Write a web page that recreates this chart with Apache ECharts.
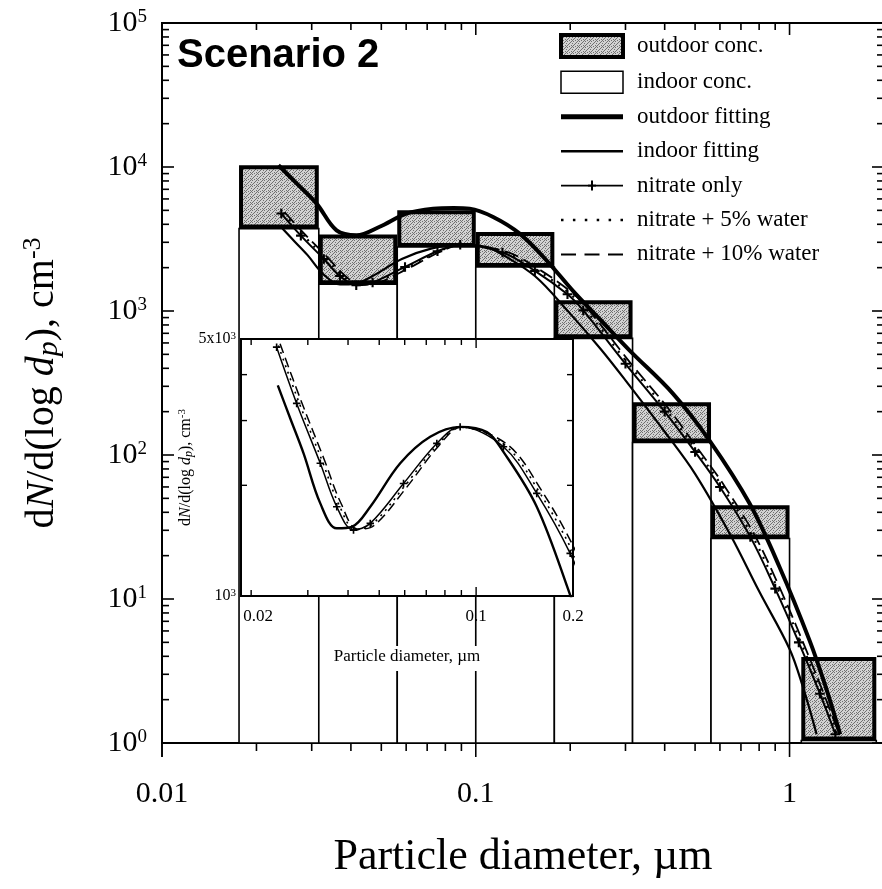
<!DOCTYPE html>
<html><head><meta charset="utf-8">
<script src="https://cdn.jsdelivr.net/npm/echarts@6/dist/echarts.min.js"></script>
<style>html,body{margin:0;padding:0;background:#fff;}#chart{width:882px;height:889px;}</style>
</head><body><div id="chart"></div>
<script>
// ---------------- data ----------------
const binLow  = [0.0176, 0.0316, 0.0562, 0.1, 0.178, 0.316, 0.562, 1.09];
const binHigh = [0.0316, 0.0562, 0.1, 0.178, 0.316, 0.562, 1.0, 1.89];
const indoorConc  = [3735, 1532, 2782, 2022, 646, 122, 26.3, 1.04];
const outdoorConc = [10280, 3394, 5000, 3540, 1187, 232, 44.8, 3.95];

const outdoorFitX = [0.0235, 0.027, 0.0311, 0.036, 0.0417, 0.0494, 0.0601, 0.0731, 0.085, 0.0956, 0.1136, 0.138, 0.168, 0.204, 0.25, 0.309, 0.425, 0.556, 0.746, 0.929, 1.158, 1.30, 1.45];
const outdoorFitY = [10280, 7600, 5570, 3630, 3356, 3846, 4746, 5140, 5200, 5140, 4497, 3446, 2250, 1380, 866, 533, 267, 126, 46, 16.7, 5.16, 2.5, 1.15];

const indoorFitX = [0.0242, 0.0265, 0.0291, 0.0328, 0.0369, 0.0411, 0.0469, 0.0581, 0.072, 0.0892, 0.108, 0.1216, 0.1543, 0.196, 0.25, 0.30, 0.40, 0.50, 0.65, 0.80, 1.0, 1.1, 1.22];
const indoorFitY = [3740, 3030, 2443, 1786, 1528, 1542, 1749, 2296, 2711, 2884, 2790, 2466, 1749, 1006, 545, 330, 145, 74, 27.5, 11.3, 4.5, 2.5, 1.15];

const nitrateX = [0.024, 0.0277, 0.0328, 0.0369, 0.0416, 0.0469, 0.0595, 0.0755, 0.0892, 0.1216, 0.1543, 0.196, 0.22, 0.30, 0.40, 0.50, 0.60, 0.75, 0.90, 1.07, 1.25, 1.40];
const nitrateY = [4750, 3340, 2296, 1749, 1511, 1576, 2023, 2600, 2884, 2546, 1901, 1306, 1010, 430, 200, 105, 60, 27, 11.8, 5.0, 2.2, 1.15];

const water5X = [0.0243, 0.0281, 0.0333, 0.0375, 0.0422, 0.0475, 0.0601, 0.076, 0.0895, 0.1235, 0.157, 0.1995, 0.224, 0.305, 0.407, 0.508, 0.61, 0.762, 0.915, 1.085, 1.265, 1.42];
const water5Y = [4800, 3380, 2320, 1770, 1515, 1565, 1995, 2580, 2880, 2560, 1920, 1320, 1020, 435, 203, 106, 60.5, 27.3, 11.9, 5.05, 2.22, 1.15];

const water10X = [0.0246, 0.0285, 0.0338, 0.038, 0.0428, 0.0482, 0.0607, 0.0765, 0.0898, 0.1255, 0.1595, 0.203, 0.228, 0.31, 0.414, 0.516, 0.62, 0.775, 0.93, 1.10, 1.28, 1.44];
const water10Y = [4850, 3420, 2340, 1790, 1520, 1555, 1970, 2560, 2875, 2575, 1940, 1335, 1030, 440, 206, 107, 61, 27.6, 12.0, 5.1, 2.25, 1.15];

const mainXLabelValues = [0.01, 0.1, 1];
const mainXLabelText = ['0.01', '0.1', '1'];
const insetXLabelValues = [0.02, 0.1, 0.2];
const insetXLabelText = ['0.02', '0.1', '0.2'];

const legendNames = ['outdoor conc.', 'indoor conc.', 'outdoor fitting', 'indoor fitting', 'nitrate only', 'nitrate + 5% water', 'nitrate + 10% water'];

// ---------------- helpers ----------------
const SERIF = 'Liberation Serif';
const zip = (xs, ys) => xs.map((x, i) => [x, ys[i]]);

function minorTicks(decades, maxV) {
  const out = [];
  decades.forEach(d => { for (let k = 2; k <= 9; k++) { const v = +(k * d).toPrecision(4); if (v < maxV) out.push(v); } });
  return out;
}
const mainXTicks = [0.01, 0.1, 1].map(v => [v, 1]).concat(minorTicks([0.01, 0.1, 1], 2).map(v => [v, 0]));
const mainYTicks = [1, 10, 100, 1000, 10000, 100000].map(v => [v, 1]).concat(minorTicks([1, 10, 100, 1000, 10000], 1e5).map(v => [v, 0]));
const insetXTicks = [[0.1, 1]].concat([0.02, 0.03, 0.04, 0.05, 0.06, 0.07, 0.08, 0.09].map(v => [v, 0]));
const insetYTicks = [2000, 3000, 4000].map(v => [v, 0]);

function makePattern() {
  const c = document.createElement('canvas'); c.width = 6; c.height = 6;
  const g = c.getContext('2d');
  g.fillStyle = '#d2d2d2'; g.fillRect(0, 0, 6, 6);
  g.fillStyle = '#707070';
  [[0,0],[3,1],[1,3],[4,4],[2,5],[5,2],[0,4],[4,0],[2,2],[5,5]].forEach(p => g.fillRect(p[0], p[1], 1, 1));
  return c;
}
const shade = { image: makePattern(), repeat: 'repeat' };

const plusSymbol = 'path://M-6,-6L-6,-6L-5.99,-6Z M6,6L6,6L5.99,6Z M-0.7,-3.2H0.7V-0.7H3.2V0.7H0.7V3.2H-0.7V0.7H-3.2V-0.7H-0.7Z';

// legend icon shapes (line samples)
const iconThick = 'path://M0,0H62V5H0Z';
const iconThin = 'path://M0,0H62V2.4H0Z';
const iconPlus = 'path://M0,4.2H62V5.8H0Z M30,0H32V10H30Z M27,3.9H35V6.1H27Z';
const iconDotted = 'path://M0,0H2.5V2.5H0Z M11.9,0H14.4V2.5H11.9Z M23.8,0H26.3V2.5H23.8Z M35.7,0H38.2V2.5H35.7Z M47.6,0H50.1V2.5H47.6Z M59.5,0H62V2.5H59.5Z';
const iconDashed = 'path://M0,0H15V2H0Z M23.5,0H38.5V2H23.5Z M47,0H62V2H47Z';

function tickSeries(gi, xt, yt, xref, yref, o) {
  return {
    type: 'custom', xAxisIndex: gi, yAxisIndex: gi, z: o.z, silent: true, clip: false,
    data: [[xref, yref]], encode: { x: 0, y: 1 },
    renderItem: function (params, api) {
      const cs = params.coordSys;
      const L = cs.x, R = cs.x + cs.width, T = cs.y, B = cs.y + cs.height;
      const ch = [];
      const st = { stroke: '#000', lineWidth: o.lw };
      const seg = (x1, y1, x2, y2) => ch.push({ type: 'line', shape: { x1, y1, x2, y2 }, style: st });
      xt.forEach(t => {
        const px = api.coord([t[0], yref])[0];
        const len = t[1] ? o.maj : o.min;
        seg(px, B, px, B + o.bottomDir * (t[1] ? o.bmaj : o.bmin));
        seg(px, T, px, T + len);
      });
      yt.forEach(t => {
        const py = api.coord([xref, t[0]])[1];
        const len = t[1] ? o.maj : o.min;
        seg(L, py, L + len, py);
        seg(R, py, R - len, py);
      });
      if (o.leftExt) seg(L, B, L, B + o.leftExt);
      return { type: 'group', children: ch };
    }
  };
}

function lineSeries(name, xs, ys, gi, z, style, extra) {
  return Object.assign({
    name, type: 'line', xAxisIndex: gi, yAxisIndex: gi, z,
    data: zip(xs, ys), smooth: 0.35, symbol: 'none', clip: true,
    lineStyle: Object.assign({ color: '#000' }, style), itemStyle: { color: '#000' },
    silent: true
  }, extra || {});
}

const supRich = (fs, sfs) => ({
  b: { fontFamily: SERIF, fontSize: fs, color: '#000', lineHeight: fs },
  s: { fontFamily: SERIF, fontSize: sfs, color: '#000', verticalAlign: 'top', lineHeight: fs }
});

const blackIcon = { color: '#000', borderWidth: 0 };

// ---------------- option ----------------
const option = {
  animation: false,
  backgroundColor: '#fff',
  title: {
    text: 'Scenario 2', left: 177, top: 36, padding: 0,
    textStyle: { fontFamily: 'Liberation Sans', fontWeight: 'bold', fontSize: 40, color: '#000' }
  },
  legend: {
    orient: 'vertical', left: 559, top: 33, padding: 0, itemWidth: 62, itemHeight: 22, itemGap: 11.4,
    selectedMode: false,
    textStyle: { fontFamily: SERIF, fontSize: 23, color: '#000', padding: [0, 0, 0, 9] },
    data: [
      { name: legendNames[0], icon: 'rect', itemStyle: { color: shade, borderColor: '#000', borderWidth: 4 } },
      { name: legendNames[1], icon: 'rect', itemStyle: { color: '#fff', borderColor: '#000', borderWidth: 1.5 } },
      { name: legendNames[2], icon: iconThick, itemStyle: blackIcon },
      { name: legendNames[3], icon: iconThin, itemStyle: blackIcon },
      { name: legendNames[4], icon: iconPlus, itemStyle: blackIcon },
      { name: legendNames[5], icon: iconDotted, itemStyle: blackIcon },
      { name: legendNames[6], icon: iconDashed, itemStyle: blackIcon }
    ]
  },
  grid: [
    { left: 162, top: 23, width: 722, height: 720, show: true, borderColor: '#000', borderWidth: 2, backgroundColor: 'transparent', outerBoundsMode: 'none' },
    { left: 241, top: 339, width: 332, height: 257, show: false, outerBoundsMode: 'none' }
  ],
  xAxis: [
    {
      type: 'log', gridIndex: 0, min: 0.01, max: 2, logBase: 10,
      axisLine: { show: false }, axisTick: { show: false }, splitLine: { show: false }, minorTick: { show: false },
      axisLabel: {
        margin: 36, fontFamily: SERIF, fontSize: 30, color: '#000', showMinLabel: true, showMaxLabel: true,
        formatter: v => { const i = mainXLabelValues.findIndex(m => Math.abs(m - v) / m < 1e-6); return i < 0 ? '' : mainXLabelText[i]; }
      },
      name: 'Particle diameter, µm', nameLocation: 'middle', nameGap: 92,
      nameTextStyle: { fontFamily: SERIF, fontSize: 44, color: '#000' }
    },
    {
      type: 'log', gridIndex: 1, min: 0.0186, max: 0.2, logBase: 10, z: 20,
      axisLine: { show: false }, axisTick: { show: false }, splitLine: { show: false }, axisLabel: { show: false },
      name: 'Particle diameter, µm', nameLocation: 'middle', nameGap: 50,
      nameTextStyle: { fontFamily: SERIF, fontSize: 17, color: '#000', backgroundColor: '#fff', padding: [2, 4, 6, 4] }
    }
  ],
  yAxis: [
    {
      type: 'log', gridIndex: 0, min: 1, max: 100000, logBase: 10,
      axisLine: { show: false }, axisTick: { show: false }, splitLine: { show: false }, minorTick: { show: false },
      axisLabel: {
        margin: 15, showMinLabel: true, showMaxLabel: true,
        formatter: v => { const e = Math.round(Math.log10(v)); return Math.abs(Math.log10(v) - e) > 1e-6 ? '' : '{b|10}{s|' + e + '}'; },
        rich: supRich(30, 19)
      },
      name: '{n|d}{i|N}{n|/d(log }{i|d}{sub|p}{n|), cm}{sup|-3}', nameLocation: 'middle', nameRotate: 90, nameGap: 98,
      nameTextStyle: {
        rich: {
          n: { fontFamily: SERIF, fontSize: 40, color: '#000', lineHeight: 44 },
          i: { fontFamily: SERIF, fontSize: 40, fontStyle: 'italic', color: '#000', lineHeight: 44 },
          sub: { fontFamily: SERIF, fontSize: 30, fontStyle: 'italic', color: '#000', verticalAlign: 'bottom', lineHeight: 30 },
          sup: { fontFamily: SERIF, fontSize: 26, color: '#000', verticalAlign: 'top', lineHeight: 26 }
        }
      }
    },
    {
      type: 'log', gridIndex: 1, min: 1000, max: 5000, logBase: 10, z: 20,
      axisLine: { show: false }, axisTick: { show: false }, splitLine: { show: false },
      axisLabel: {
        margin: 5, showMinLabel: true, showMaxLabel: true,
        formatter: v => (Math.abs(v - 1000) < 1e-6 ? '{b|10}{s|3}' : (Math.abs(v - 5000) < 1e-3 ? '{b|5x10}{s|3}' : '')),
        rich: supRich(16, 11)
      },
      name: '{n|d}{i|N}{n|/d(log }{i|d}{sub|p}{n|), cm}{sup|-3}', nameLocation: 'middle', nameRotate: 90, nameGap: 30,
      nameTextStyle: {
        rich: {
          n: { fontFamily: SERIF, fontSize: 16, color: '#000', lineHeight: 18 },
          i: { fontFamily: SERIF, fontSize: 16, fontStyle: 'italic', color: '#000', lineHeight: 18 },
          sub: { fontFamily: SERIF, fontSize: 12, fontStyle: 'italic', color: '#000', verticalAlign: 'bottom', lineHeight: 12 },
          sup: { fontFamily: SERIF, fontSize: 11, color: '#000', verticalAlign: 'top', lineHeight: 11 }
        }
      }
    }
  ],
  series: [
    {
      name: legendNames[1], type: 'custom', xAxisIndex: 0, yAxisIndex: 0, z: 2, silent: true,
      itemStyle: { color: '#fff', borderColor: '#000' },
      data: binLow.map((lo, i) => [lo, binHigh[i], indoorConc[i]]), encode: { x: [0, 1], y: 2 },
      renderItem: function (params, api) {
        const p0 = api.coord([api.value(0), 1]);
        const p1 = api.coord([api.value(1), api.value(2)]);
        return { type: 'rect', shape: { x: p0[0], y: p1[1], width: p1[0] - p0[0], height: p0[1] - p1[1] },
          style: { fill: '#fff', stroke: '#000', lineWidth: 1.6 } };
      }
    },
    {
      name: legendNames[0], type: 'custom', xAxisIndex: 0, yAxisIndex: 0, z: 2, silent: true,
      itemStyle: { color: '#bbb', borderColor: '#000' },
      data: binLow.map((lo, i) => [lo, binHigh[i], indoorConc[i], outdoorConc[i]]), encode: { x: [0, 1], y: [2, 3] },
      renderItem: function (params, api) {
        const pLo = api.coord([api.value(0), api.value(2)]);
        const pHi = api.coord([api.value(1), api.value(3)]);
        const w = 4, h = w / 2;
        return { type: 'rect', shape: { x: pLo[0] + h, y: pHi[1] + h, width: pHi[0] - pLo[0] - w, height: pLo[1] - pHi[1] - w },
          style: { fill: shade, stroke: '#000', lineWidth: w } };
      }
    },
    lineSeries(legendNames[2], outdoorFitX, outdoorFitY, 0, 3, { width: 4 }),
    lineSeries(legendNames[3], indoorFitX, indoorFitY, 0, 3, { width: 2.2 }),
    lineSeries(legendNames[4], nitrateX, nitrateY, 0, 3, { width: 2 }, { symbol: plusSymbol, symbolSize: 18, showSymbol: true }),
    lineSeries(legendNames[5], water5X, water5Y, 0, 3, { width: 2.2, type: [2, 7] }),
    lineSeries(legendNames[6], water10X, water10Y, 0, 3, { width: 1.8, type: [14, 6] }),
    tickSeries(0, mainXTicks, mainYTicks, 0.1, 10, { z: 4, lw: 1.6, maj: 12, min: 7, bottomDir: 1, bmaj: 14, bmin: 8, leftExt: 14 }),
    // inset panel
    {
      type: 'custom', xAxisIndex: 1, yAxisIndex: 1, z: 10, silent: true, clip: false,
      data: [[0.1, 2000]], encode: { x: 0, y: 1 },
      renderItem: function (params, api) {
        const cs = params.coordSys;
        return { type: 'rect', shape: { x: cs.x, y: cs.y, width: cs.width, height: cs.height },
          style: { fill: '#fff', stroke: '#000', lineWidth: 2 } };
      }
    },
    lineSeries(legendNames[3], indoorFitX, indoorFitY, 1, 11, { width: 2.4 }),
    lineSeries(legendNames[4], nitrateX, nitrateY, 1, 11, { width: 1.5 }, { symbol: plusSymbol, symbolSize: 14, showSymbol: true }),
    lineSeries(legendNames[5], water5X, water5Y, 1, 11, { width: 1.6, type: [2, 5] }),
    lineSeries(legendNames[6], water10X, water10Y, 1, 11, { width: 1.5, type: [10, 5] }),
    tickSeries(1, insetXTicks, insetYTicks, 0.1, 2000, { z: 12, lw: 1.4, maj: 9, min: 6, bottomDir: -1, bmaj: 9, bmin: 6 }),
    {
      type: 'custom', xAxisIndex: 1, yAxisIndex: 1, z: 12, silent: true, clip: false,
      data: insetXLabelValues.map((v, i) => [v, 1000, i]), encode: { x: 0, y: 1 },
      renderItem: function (params, api) {
        const p = api.coord([api.value(0), api.value(1)]);
        const first = api.value(2) === 0;
        return { type: 'text', style: { text: insetXLabelText[api.value(2)], x: first ? p[0] - 8 : p[0], y: p[1] + 12,
          align: first ? 'left' : 'center', verticalAlign: 'top', font: '17px "Liberation Serif"', fill: '#000' } };
      }
    }
  ]
};

const chart = echarts.init(document.getElementById('chart'), null, { renderer: 'canvas' });
chart.setOption(option);
</script>
</body></html>
